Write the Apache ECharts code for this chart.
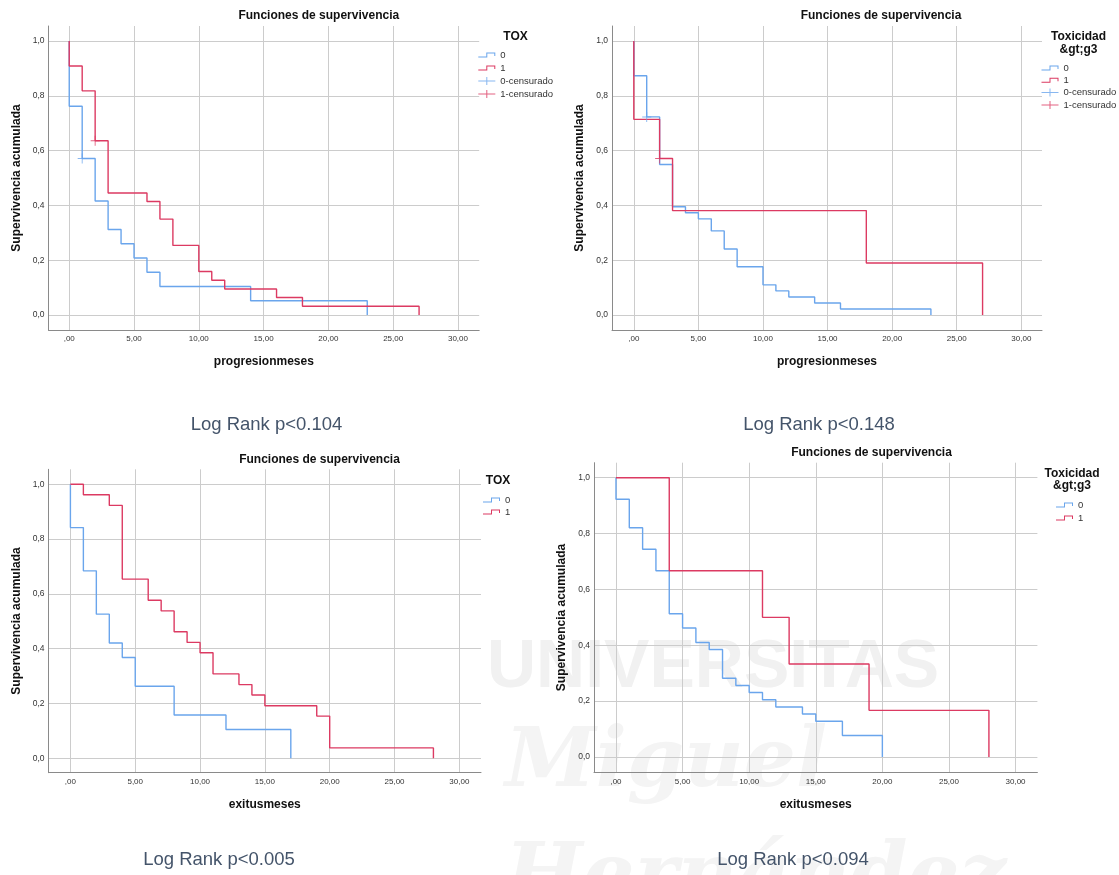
<!DOCTYPE html>
<html><head><meta charset="utf-8">
<script src="https://cdn.jsdelivr.net/npm/echarts@6/dist/echarts.min.js"></script>
<style>html,body{margin:0;padding:0;background:#fff;}#c{width:1119px;height:875px;}</style>
</head><body><div id="c"></div>
<script>
// ---------------- DATA ----------------
const xTicks = [0, 5, 10, 15, 20, 25, 30];
const xTickLabels = [',00', '5,00', '10,00', '15,00', '20,00', '25,00', '30,00'];
const yTicks = [0, 0.2, 0.4, 0.6, 0.8, 1.0];
const yTickLabels = ['0,0', '0,2', '0,4', '0,6', '0,8', '1,0'];

const panelTitles = ['Funciones de supervivencia', 'Funciones de supervivencia', 'Funciones de supervivencia', 'Funciones de supervivencia'];
const xAxisNames = ['progresionmeses', 'progresionmeses', 'exitusmeses', 'exitusmeses'];
const yAxisName = 'Supervivencia acumulada';
const legendTitles = [['TOX'], ['Toxicidad', '&gt;g3'], ['TOX'], ['Toxicidad', '&gt;g3']];
const groupNames = ['0', '1'];
const censNames = ['0-censurado', '1-censurado'];
const logRankTexts = ['Log Rank p<0.104', 'Log Rank p<0.148', 'Log Rank p<0.005', 'Log Rank p<0.094'];

// Panel 1: progresionmeses by TOX
const p1Time0 = [0, 0, 1, 2, 3, 4, 5, 6, 7, 14, 23];
const p1Surv0 = [1, 0.762, 0.571, 0.416, 0.312, 0.260, 0.208, 0.156, 0.104, 0.052, 0];
const p1Time1 = [0, 0, 1, 2, 3, 6, 7, 8, 10, 11, 12, 16, 18, 27];
const p1Surv1 = [1, 0.909, 0.818, 0.636, 0.445, 0.414, 0.350, 0.254, 0.159, 0.127, 0.095, 0.064, 0.032, 0];
const p1CensTime0 = [1];
const p1CensSurv0 = [0.571];
const p1CensTime1 = [2];
const p1CensSurv1 = [0.636];

// Panel 2: progresionmeses by Toxicidad >g3
const p2Time0 = [0, 0, 1, 2, 3, 4, 5, 6, 7, 8, 10, 11, 12, 14, 16, 23];
const p2Surv0 = [1, 0.873, 0.723, 0.549, 0.395, 0.373, 0.351, 0.307, 0.241, 0.176, 0.110, 0.088, 0.066, 0.044, 0.022, 0];
const p2Time1 = [0, 0, 2, 3, 18, 27];
const p2Surv1 = [1, 0.714, 0.571, 0.381, 0.190, 0];
const p2CensTime0 = [1];
const p2CensSurv0 = [0.723];
const p2CensTime1 = [2];
const p2CensSurv1 = [0.571];

// Panel 3: exitusmeses by TOX
const p3Time0 = [0, 0, 1, 2, 3, 4, 5, 8, 12, 17];
const p3Surv0 = [1, 0.842, 0.684, 0.526, 0.421, 0.368, 0.263, 0.158, 0.105, 0];
const p3Time1 = [0, 1, 3, 4, 6, 7, 8, 9, 10, 11, 13, 14, 15, 19, 20, 28];
const p3Surv1 = [1, 0.962, 0.923, 0.654, 0.577, 0.538, 0.462, 0.423, 0.385, 0.308, 0.269, 0.231, 0.192, 0.154, 0.038, 0];

// Panel 4: exitusmeses by Toxicidad >g3
const p4Time0 = [0, 0, 1, 2, 3, 4, 5, 6, 7, 8, 9, 10, 11, 12, 14, 15, 17, 20];
const p4Surv0 = [1, 0.923, 0.821, 0.744, 0.667, 0.513, 0.462, 0.410, 0.385, 0.282, 0.256, 0.231, 0.205, 0.179, 0.154, 0.128, 0.077, 0];
const p4Time1 = [0, 4, 11, 13, 19, 28];
const p4Surv1 = [1, 0.667, 0.5, 0.333, 0.167, 0];

// ---------------- LAYOUT / STYLE ----------------
const FONT = '"Liberation Sans", Arial, sans-serif';
const BLUE = '#6aa5ec';
const RED = '#dc3a62';
const GRID_C = '#cccccc';
const AXIS_C = '#8a8a8a';

const grids = [
  { left: 48.5, top: 26, width: 430.7, height: 304 },
  { left: 612, top: 26, width: 430, height: 304 },
  { left: 48.5, top: 469.3, width: 432.5, height: 303.4 },
  { left: 594, top: 462.7, width: 443.4, height: 309.6 }
];
const xRanges = [[-1.6, 31.64], [-1.687, 31.6], [-1.69, 31.67], [-1.65, 31.64]];
const yRanges = [[-0.0547, 1.0547], [-0.0547, 1.0547], [-0.0526, 1.0547], [-0.0548, 1.0537]];
const titlePos = [[318.8, 16], [881, 16], [319.5, 460], [871.5, 452.5]];
const legendTitlePos = [[515.5, 37], [1078.5, 37], [498, 481], [1072, 473.5]];
const legendPos = [[478.3, 49, 1], [1041.5, 62, 0.3], [483, 494, 0], [1056, 499, 1]];
const logRankPos = [[266.5, 425], [819, 425], [219, 860], [793, 860]];

const stepIcon = 'path://M0,4H8V0H17V3.5H16V1H9V5H0Z';
const plusIcon = 'path://M0,3.5H17V4.5H0Z M8,0H9V8H8Z';
const censSymbol = 'path://M0,4.5H10V5.5H0Z M4.5,0H5.5V10H4.5Z';

function zip(a, b) { return a.map((v, i) => [v, b[i]]); }
function xLabel(v) { const i = xTicks.findIndex(t => Math.abs(t - v) < 1e-6); return i >= 0 ? xTickLabels[i] : ''; }
function yLabel(v) { const i = yTicks.findIndex(t => Math.abs(t - v) < 1e-6); return i >= 0 ? yTickLabels[i] : ''; }

const curves = [
  [[p1Time0, p1Surv0], [p1Time1, p1Surv1]],
  [[p2Time0, p2Surv0], [p2Time1, p2Surv1]],
  [[p3Time0, p3Surv0], [p3Time1, p3Surv1]],
  [[p4Time0, p4Surv0], [p4Time1, p4Surv1]]
];
const censors = [
  [[p1CensTime0, p1CensSurv0], [p1CensTime1, p1CensSurv1]],
  [[p2CensTime0, p2CensSurv0], [p2CensTime1, p2CensSurv1]],
  null, null
];

const xAxes = [], yAxes = [], series = [], legends = [], graphics = [];
const colors = [BLUE, RED];

// faint background watermark (drawn first, behind)
graphics.push({ type: 'text', x: 487, y: 668, z: -10, silent: true,
  style: { text: 'UNIVERSITAS', fill: '#f1f1f1', font: 'bold 68px ' + FONT, align: 'left', verticalAlign: 'middle' } });
graphics.push({ type: 'text', x: 505, y: 765, z: -10, silent: true,
  style: { text: 'Miguel', fill: '#f4f4f4', font: 'italic bold 82px "DejaVu Serif", serif', align: 'left', verticalAlign: 'middle' } });
graphics.push({ type: 'text', x: 505, y: 880, z: -10, silent: true,
  style: { text: 'Hernández', fill: '#f4f4f4', font: 'italic bold 82px "DejaVu Serif", serif', align: 'left', verticalAlign: 'middle' } });

grids.forEach((g, i) => {
  xAxes.push({
    type: 'value', gridIndex: i, min: xRanges[i][0], max: xRanges[i][1],
    name: xAxisNames[i], nameLocation: 'middle', nameGap: 26,
    nameTextStyle: { fontFamily: FONT, fontWeight: 'bold', fontSize: 12, color: '#111' },
    axisLine: { show: true, onZero: false, lineStyle: { color: AXIS_C, width: 1 } },
    axisTick: { show: false, customValues: xTicks },
    axisLabel: { customValues: xTicks, formatter: xLabel, margin: 5, fontSize: 8, color: '#333', fontFamily: FONT },
    splitLine: { show: true, lineStyle: { color: GRID_C, width: 1 } }
  });
  yAxes.push({
    type: 'value', gridIndex: i, min: yRanges[i][0], max: yRanges[i][1],
    name: yAxisName, nameLocation: 'middle', nameGap: 26,
    nameTextStyle: { fontFamily: FONT, fontWeight: 'bold', fontSize: 12, color: '#111' },
    axisLine: { show: true, onZero: false, lineStyle: { color: AXIS_C, width: 1 } },
    axisTick: { show: false, customValues: yTicks },
    axisLabel: { customValues: yTicks, formatter: yLabel, margin: 4, fontSize: 8.5, color: '#333', fontFamily: FONT },
    splitLine: { show: true, lineStyle: { color: GRID_C, width: 1 } }
  });
  curves[i].forEach((c, k) => {
    series.push({
      type: 'line', name: groupNames[k], xAxisIndex: i, yAxisIndex: i,
      step: 'end', symbol: 'none', data: zip(c[0], c[1]),
      lineStyle: { color: colors[k], width: 1.4 }, itemStyle: { color: colors[k] },
      emphasis: { disabled: true }, z: 3 + k
    });
  });
  const legendData = groupNames.map(n => ({ name: n, icon: stepIcon }));
  if (censors[i]) {
    censors[i].forEach((c, k) => {
      series.push({
        type: 'scatter', name: censNames[k], xAxisIndex: i, yAxisIndex: i,
        symbol: censSymbol, symbolSize: [9, 10], data: zip(c[0], c[1]),
        itemStyle: { color: colors[k] }, emphasis: { disabled: true }, z: 6
      });
    });
    censNames.forEach(n => legendData.push({ name: n, icon: plusIcon }));
  }
  legends.push({
    orient: 'vertical', left: legendPos[i][0], top: legendPos[i][1], itemGap: legendPos[i][2],
    padding: 0, itemWidth: 17, itemHeight: 8, selectedMode: false,
    itemStyle: { borderWidth: 0 },
    textStyle: { fontSize: 9.5, lineHeight: 12, color: '#333', fontFamily: FONT },
    data: legendData
  });
  graphics.push({
    type: 'text', x: titlePos[i][0], y: titlePos[i][1], silent: true,
    style: { text: panelTitles[i], fill: '#111', font: 'bold 12px ' + FONT, align: 'center', verticalAlign: 'middle' }
  });
  legendTitles[i].forEach((t, k) => {
    graphics.push({
      type: 'text', x: legendTitlePos[i][0], y: legendTitlePos[i][1] + k * 12.5, silent: true,
      style: { text: t, fill: '#111', font: 'bold 12px ' + FONT, align: 'center', verticalAlign: 'middle' }
    });
  });
  graphics.push({
    type: 'text', x: logRankPos[i][0], y: logRankPos[i][1], silent: true,
    style: { text: logRankTexts[i], fill: '#44546a', font: '18.5px ' + FONT, align: 'center', verticalAlign: 'middle' }
  });
});

const chart = echarts.init(document.getElementById('c'), null, { renderer: 'canvas' });
chart.setOption({
  animation: false,
  backgroundColor: '#ffffff',
  grid: grids,
  xAxis: xAxes,
  yAxis: yAxes,
  legend: legends,
  series: series,
  graphic: graphics
});
</script></body></html>
